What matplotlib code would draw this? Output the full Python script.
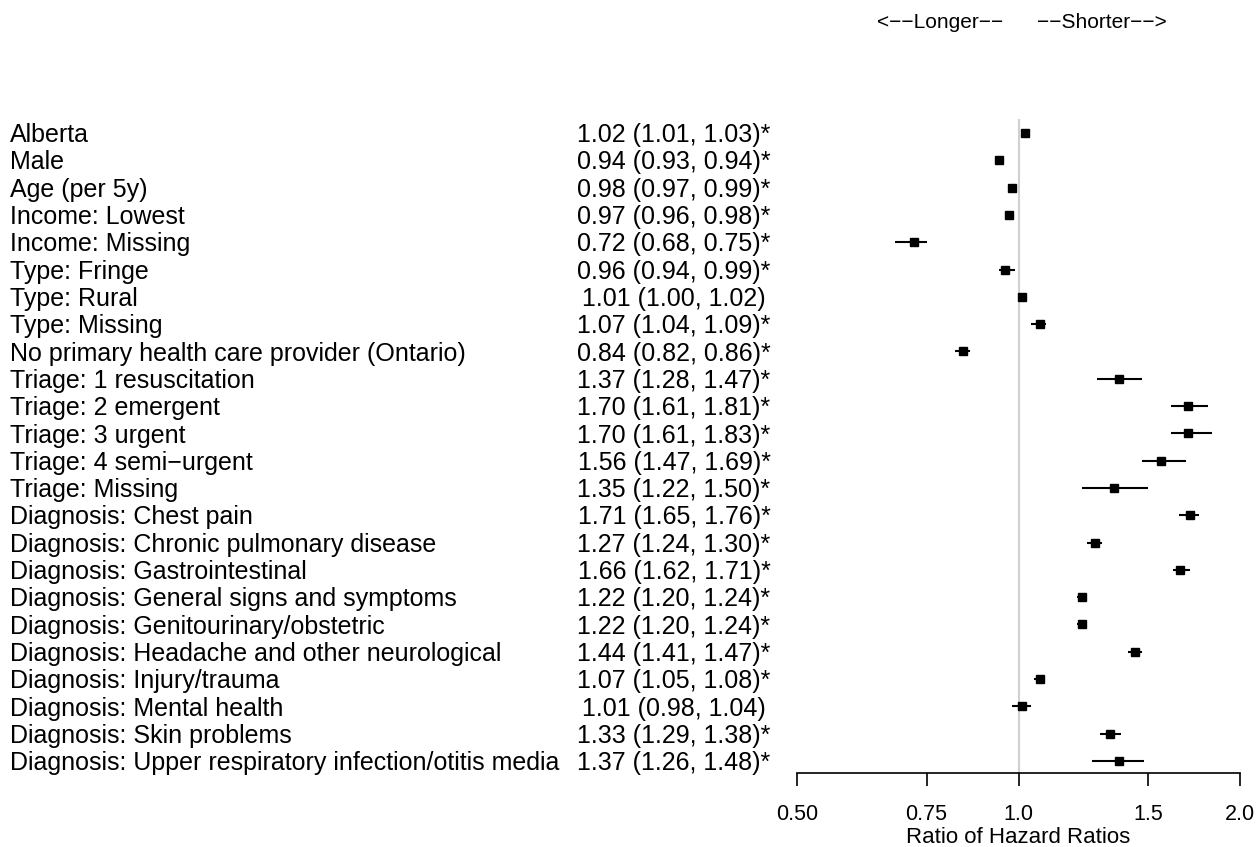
import matplotlib
matplotlib.use("Agg")
import matplotlib.pyplot as plt
import matplotlib.transforms as mtransforms
from matplotlib.ticker import FixedLocator, FixedFormatter, NullLocator

plt.rcParams['font.family'] = ['Liberation Sans', 'DejaVu Sans']

labels = [
    "Alberta", "Male", "Age (per 5y)", "Income: Lowest", "Income: Missing",
    "Type: Fringe", "Type: Rural", "Type: Missing",
    "No primary health care provider (Ontario)",
    "Triage: 1 resuscitation", "Triage: 2 emergent", "Triage: 3 urgent",
    "Triage: 4 semi\u2212urgent", "Triage: Missing",
    "Diagnosis: Chest pain", "Diagnosis: Chronic pulmonary disease",
    "Diagnosis: Gastrointestinal", "Diagnosis: General signs and symptoms",
    "Diagnosis: Genitourinary/obstetric",
    "Diagnosis: Headache and other neurological",
    "Diagnosis: Injury/trauma", "Diagnosis: Mental health",
    "Diagnosis: Skin problems",
    "Diagnosis: Upper respiratory infection/otitis media",
]
est = [1.02, 0.94, 0.98, 0.97, 0.72, 0.96, 1.01, 1.07, 0.84, 1.37, 1.70, 1.70,
       1.56, 1.35, 1.71, 1.27, 1.66, 1.22, 1.22, 1.44, 1.07, 1.01, 1.33, 1.37]
lo = [1.01, 0.93, 0.97, 0.96, 0.68, 0.94, 1.00, 1.04, 0.82, 1.28, 1.61, 1.61,
      1.47, 1.22, 1.65, 1.24, 1.62, 1.20, 1.20, 1.41, 1.05, 0.98, 1.29, 1.26]
hi = [1.03, 0.94, 0.99, 0.98, 0.75, 0.99, 1.02, 1.09, 0.86, 1.47, 1.81, 1.83,
      1.69, 1.50, 1.76, 1.30, 1.71, 1.24, 1.24, 1.47, 1.08, 1.04, 1.38, 1.48]
signif = [True, True, True, True, True, True, False, True, True, True, True, True,
          True, True, True, True, True, True, True, True, True, False, True, True]
ticks = [0.5, 0.75, 1.0, 1.5, 2.0]
tick_labels = ["0.50", "0.75", "1.0", "1.5", "2.0"]

W, H = 1257, 847
fig = plt.figure(figsize=(W / 100, H / 100), dpi=100)
ax = fig.add_axes([797 / W, (H - 773) / H, (1240 - 797) / W, (773 - 119) / H])

n = len(labels)
rows = list(range(n))
ax.set_xscale('log')
ax.set_xlim(0.5, 2.0)
ax.set_ylim(23 + 12 / 27.3, -14 / 27.3)

ax.axvline(1.0, color='#d0d0d0', lw=1.5, zorder=0)
ax.hlines(rows, lo, hi, color='black', lw=1.5)
ax.plot(est, rows, 's', color='black', ms=5.5, ls='none')

for s in ['top', 'right', 'left']:
    ax.spines[s].set_visible(False)
ax.spines['bottom'].set_linewidth(1.2)
ax.xaxis.set_major_locator(FixedLocator(ticks))
ax.xaxis.set_major_formatter(FixedFormatter(tick_labels))
ax.xaxis.set_minor_locator(NullLocator())
ax.tick_params(axis='x', length=9, width=1.2, labelsize=15.5, pad=13.5)
ax.set_yticks([])
ax.set_xlabel("Ratio of Hazard Ratios", fontsize=16, labelpad=1)

trans = mtransforms.blended_transform_factory(fig.transFigure, ax.transData)
for i in rows:
    ax.text(10 / W, i + 0.08, labels[i], transform=trans, fontsize=18,
            va='center', ha='left', clip_on=False)
    txt = f"{est[i]:.2f} ({lo[i]:.2f}, {hi[i]:.2f})" + ("*" if signif[i] else "")
    ax.text(674 / W, i + 0.08, txt, transform=trans, fontsize=18,
            va='center', ha='center', clip_on=False)

fig.text(940 / W, 1 - 22 / H, "<\u2212\u2212Longer\u2212\u2212", fontsize=15,
         ha='center', va='center')
fig.text(1102 / W, 1 - 22 / H, "\u2212\u2212Shorter\u2212\u2212>", fontsize=15,
         ha='center', va='center')

fig.savefig("out.png", dpi=100)
